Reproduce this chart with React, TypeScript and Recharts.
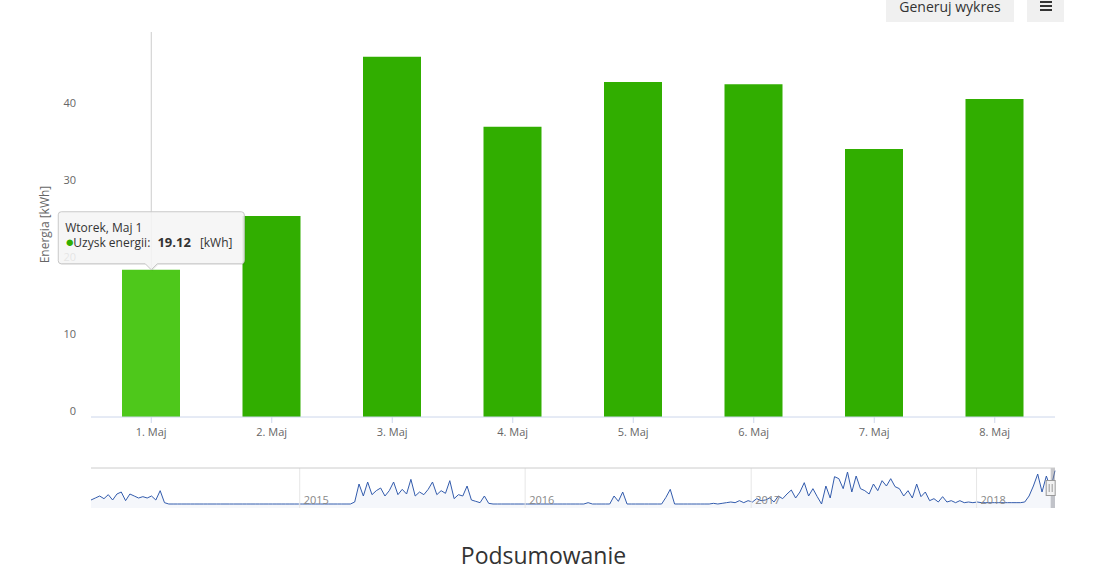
import React from 'react'
import { BarChart, Bar, XAxis, YAxis, Cell, ReferenceLine, ReferenceDot, ReferenceArea, AreaChart, Area } from 'recharts'

const days = ['1. Maj', '2. Maj', '3. Maj', '4. Maj', '5. Maj', '6. Maj', '7. Maj', '8. Maj']
const energy = [19.12, 26.1, 46.8, 37.7, 43.5, 43.2, 34.8, 41.3]
const yTicks = [0, 10, 20, 30, 40]
const hoverIndex = 0
const tooltipTitle = 'Wtorek, Maj 1'
const seriesName = 'Uzysk energii'
const unit = '[kWh]'

// navigator: weekly energy
const navStart = '2014-01-28'
const navRangeStart = '2018-05-01'
const navRangeEnd = '2018-05-08'
const navYears = [2015, 2016, 2017, 2018]
const nav2014 = [6, 9, 12, 8, 14, 6, 15, 18, 5, 15, 12, 9, 11, 9, 12, 6, 20, 2, 0]
const navGap2014 = [
  0, 0, 0, 0, 0, 0, 0, 0, 0, 0, 0, 0, 0, 0, 0, 0, 0, 0, 0, 0, 0,
  0, 0, 0, 0, 0, 0, 0, 0, 0, 0, 0, 0, 0, 0, 0, 0, 0, 0, 0, 0, 0,
]
const nav2015 = [3, 30, 12, 33, 14, 20, 24, 12, 20, 33, 14, 22, 15, 37, 12, 18, 14, 22, 33, 14, 20, 16, 35, 8, 14, 12, 27, 6, 4, 2, 12, 1, 0]
const nav2016 = [
  0, 0, 0, 0, 0, 0, 0, 0, 0, 0, 0, 0, 0, 0, 0, 0, 0, 0, 0, 0, 0, 2, 0, 0, 0, 0, 0,
  12, 4, 18, 0, 0, 0, 0, 0, 0, 0, 0, 0, 10, 22, 0, 0, 0, 0, 0, 0, 0, 0, 0, 1, 0, 1,
]
const nav2017 = [
  2, 3, 2, 5, 2, 5, 3, 8, 5, 6, 9, 3, 12, 8, 15, 21, 9, 18, 32, 12,
  23, 11, 0, 27, 9, 41, 38, 23, 48, 18, 42, 23, 20, 15, 30, 20, 35, 27, 38, 26,
  23, 12, 20, 9, 30, 11, 18, 5, 8, 3, 11, 3, 5, 2, 5, 2, 3, 2, 3, 2,
  2, 2, 2, 2, 2, 2, 2, 2, 2, 3, 12, 27, 45, 18, 42, 23, 50,
]

const DAY = 86400000
const ts = (s: string) => new Date(s + 'T00:00:00Z').getTime()
const navValues = [...nav2014, ...navGap2014, ...nav2015, ...nav2016, ...nav2017]
const navData = navValues.map((v, i) => ({ t: ts(navStart) + i * 7 * DAY, v }))
const mainData = days.map((day, i) => ({ day, energy: energy[i] }))

const GREEN = '#31ae00'
const GREEN_HOVER = '#4ec81b'
const FONT = '"Open Sans", sans-serif'

const YTick = (props: any) => {
  const { x, y, payload } = props
  return (
    <text x={x} y={y - 6} dy="0.355em" textAnchor="end" fill="#666666" fontSize={11} fontFamily={FONT}>
      {payload.value}
    </text>
  )
}

const TooltipShape = (props: any) => {
  const { cx, cy } = props
  const L = cx - 93, R = cx + 93, T = cy - 58, B = cy - 6
  const d = `M${L + 3},${T} H${R - 3} Q${R},${T} ${R},${T + 3} V${B - 3} Q${R},${B} ${R - 3},${B} H${cx + 6} L${cx},${cy} L${cx - 6},${B} H${L + 3} Q${L},${B} ${L},${B - 3} V${T + 3} Q${L},${T} ${L + 3},${T} Z`
  return (
    <g fontFamily={FONT} fontSize={12}>
      <path d={d} transform="translate(1,1)" fill="rgba(0,0,0,0.08)" />
      <path d={d} fill="rgba(247,247,247,0.88)" stroke="#c8c8c8" strokeWidth={1} />
      <text x={cx - 86} y={cy - 38} fill="#333">{tooltipTitle}</text>
      <text x={cx - 86} y={cy - 23} fill="#333">
        <tspan fill={GREEN} fontSize={15}>●</tspan>
        <tspan dx={-1}>{seriesName}: </tspan>
        <tspan fontWeight="bold" fontSize={13} dx={4}>{energy[hoverIndex].toFixed(2)}</tspan>
        <tspan dx={9}>{unit}</tspan>
      </text>
    </g>
  )
}

const Handle = (props: any) => {
  const { cx, cy } = props
  return (
    <g>
      <rect x={cx - 4.5} y={cy - 7.5} width={9} height={15} fill="#f2f2f2" stroke="#999" strokeWidth={1} />
      <line x1={cx - 1.5} x2={cx - 1.5} y1={cy - 4} y2={cy + 4} stroke="#999" />
      <line x1={cx + 1.5} x2={cx + 1.5} y1={cy - 4} y2={cy + 4} stroke="#999" />
    </g>
  )
}

export default function App() {
  return (
    <div style={{ position: 'absolute', left: 0, top: 0, width: 1095, height: 570, background: '#fff', fontFamily: FONT, overflow: 'hidden' }}>
      <div style={{ position: 'absolute', left: 886, top: 0, width: 128, height: 22, background: '#f0f0f0', color: '#333', fontSize: 14, textAlign: 'center' }}>
        <div style={{ position: 'absolute', left: 0, top: 0, width: 128, lineHeight: '14px' }}>Generuj wykres</div>
      </div>
      <div style={{ position: 'absolute', left: 1027, top: 0, width: 37, height: 22, background: '#f0f0f0' }}>
        {[1, 5, 9].map((y) => (
          <div key={y} style={{ position: 'absolute', left: 13, top: y, width: 12, height: 2, background: '#333' }} />
        ))}
      </div>

      <div style={{ position: 'absolute', left: 0, top: 0 }}>
        <BarChart width={1095} height={460} data={mainData} margin={{ top: 32, right: 40, bottom: 13, left: 31 }}>
          <XAxis
            dataKey="day"
            height={30}
            tickSize={6}
            tickMargin={5}
            axisLine={{ stroke: '#ccd6eb' }}
            tickLine={{ stroke: '#ccd6eb' }}
            tick={{ fill: '#666', fontSize: 11, fontFamily: FONT }}
          />
          <YAxis
            domain={[0, 50]}
            ticks={yTicks}
            width={60}
            axisLine={false}
            tickLine={false}
            tickSize={6}
            tickMargin={9}
            tick={<YTick />}
            label={{ value: 'Energia [kWh]', angle: -90, position: 'insideLeft', offset: 14, style: { textAnchor: 'middle', fill: '#666', fontSize: 12, fontFamily: FONT } }}
          />
          <ReferenceLine x={days[hoverIndex]} stroke="#cccccc" strokeWidth={1} zIndex={100} />
          <Bar dataKey="energy" barSize={58} isAnimationActive={false}>
            {mainData.map((d, i) => (
              <Cell key={d.day} fill={i === hoverIndex ? GREEN_HOVER : GREEN} />
            ))}
          </Bar>
          <ReferenceDot x={days[hoverIndex]} y={energy[hoverIndex]} shape={TooltipShape} zIndex={3000} />
        </BarChart>
      </div>

      <div style={{ position: 'absolute', left: 0, top: 460 }}>
        <AreaChart width={1095} height={60} data={navData} margin={{ top: 8, right: 40, bottom: 12, left: 91 }}>
          <XAxis dataKey="t" type="number" domain={[ts(navStart), ts(navRangeEnd)]} hide />
          <YAxis domain={[-6, 54]} hide />
          {navYears.map((yr) => (
            <ReferenceLine
              key={yr}
              x={Date.UTC(yr, 0, 1)}
              stroke="#e6e6e6"
              label={{ value: String(yr), position: 'insideBottomLeft', offset: 4, fill: '#888', fontSize: 11, fontFamily: FONT }}
            />
          ))}
          <ReferenceLine y={54} stroke="#cccccc" />
          <Area
            dataKey="v"
            type="linear"
            stroke="#335cad"
            strokeWidth={1}
            fill="rgba(51,92,173,0.05)"
            fillOpacity={1}
            baseValue={-6}
            dot={false}
            activeDot={false}
            isAnimationActive={false}
          />
          <ReferenceArea x1={ts(navRangeStart)} x2={ts(navRangeEnd)} y1={-6} y2={54} fill="rgba(130,130,140,0.45)" fillOpacity={1} />
          <ReferenceDot x={ts(navRangeStart)} y={24} shape={Handle} zIndex={3000} />
        </AreaChart>
      </div>

      <div style={{ position: 'absolute', left: 0, top: 543, width: 1087, textAlign: 'center', fontSize: 23, lineHeight: '25px', color: '#333' }}>
        Podsumowanie
      </div>
    </div>
  )
}
